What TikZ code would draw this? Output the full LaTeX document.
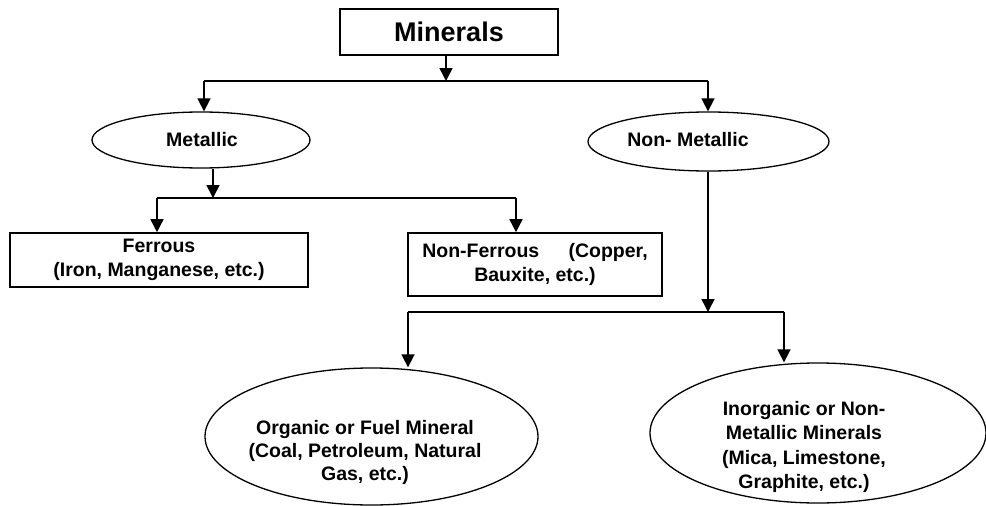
\documentclass[tikz,border=0pt]{standalone}
\usepackage{fontspec}
\setmainfont{Liberation Sans}
\usetikzlibrary{arrows.meta,shapes.geometric}

\begin{document}
\begin{tikzpicture}[x=1pt,y=-1pt,
  every node/.style={font=\bfseries\fontsize{19.5}{24.5}\selectfont},
  nd/.style={inner sep=0pt,align=center},
  bx/.style={draw,line width=1.6pt,rectangle,inner sep=0pt,align=center},
  ov/.style={draw,line width=1.3pt,ellipse,inner sep=0pt},
  ln/.style={line width=1.6pt},
  arr/.style={line width=1.6pt,-{Triangle[length=13pt,width=13pt]}}]
 \useasboundingbox (0,0) rectangle (986,506);
 % boxes and ovals
 \node[bx,minimum width=218pt,minimum height=46pt,font=\bfseries\fontsize{27}{32}\selectfont] (min) at (449,32) {Minerals};
 \node[ov,minimum width=218pt,minimum height=56pt] (met) at (201,140) {};
 \node[nd] (mettx) at (202,140) {Metallic};
 \node[ov,minimum width=241pt,minimum height=59pt] (nmet) at (708.5,141.5) {};
 \node[nd] (nmettx) at (688,140) {Non- Metallic};
 \node[bx,minimum width=298pt,minimum height=54pt] (fer) at (159,260) {Ferrous\\(Iron, Manganese, etc.)};
 \node[bx,minimum width=254pt,minimum height=63pt] (nfe) at (535,264.5) {Non-Ferrous\hspace{1.5em}(Copper,\\Bauxite, etc.)};
 \node[ov,minimum width=333pt,minimum height=137pt] (org) at (371.5,436.5) {};
 \node[nd] (orgtx) at (365,452) {Organic or Fuel Mineral\\[-1.5pt](Coal, Petroleum, Natural\\[-1.5pt]Gas, etc.)};
 \node[ov,minimum width=336pt,minimum height=140pt] (inorg) at (818,433) {};
 \node[nd] (inorgtx) at (804,447) {Inorganic or Non-\\Metallic Minerals\\(Mica, Limestone,\\Graphite, etc.)};
 % junctions
 \coordinate (j0) at (446,81);  \coordinate (j0l) at (204,81);  \coordinate (j0r) at (708,81);
 \coordinate (j1) at (213,198); \coordinate (j1l) at (157,198); \coordinate (j1r) at (516,198);
 \coordinate (j2) at (708,312); \coordinate (j2l) at (408,312); \coordinate (j2r) at (784,312);
 % connectors
 \draw[arr] (min.south -| j0) -- (j0);
 \draw[arr] (met.south -| j1) -- (j1);
 \draw[arr] (nmet.south -| j2) -- (j2);
 \foreach \a/\b in {j0l/j0r,j1l/j1r,j2l/j2r}
   \draw[ln] (\a) -- (\b);
 \foreach \a/\b in {j0l/met,j0r/nmet,j1l/fer,j1r/nfe,j2l/org,j2r/inorg}
   \draw[arr] (\a) -- (\a |- \b.north);
\end{tikzpicture}
\end{document}
